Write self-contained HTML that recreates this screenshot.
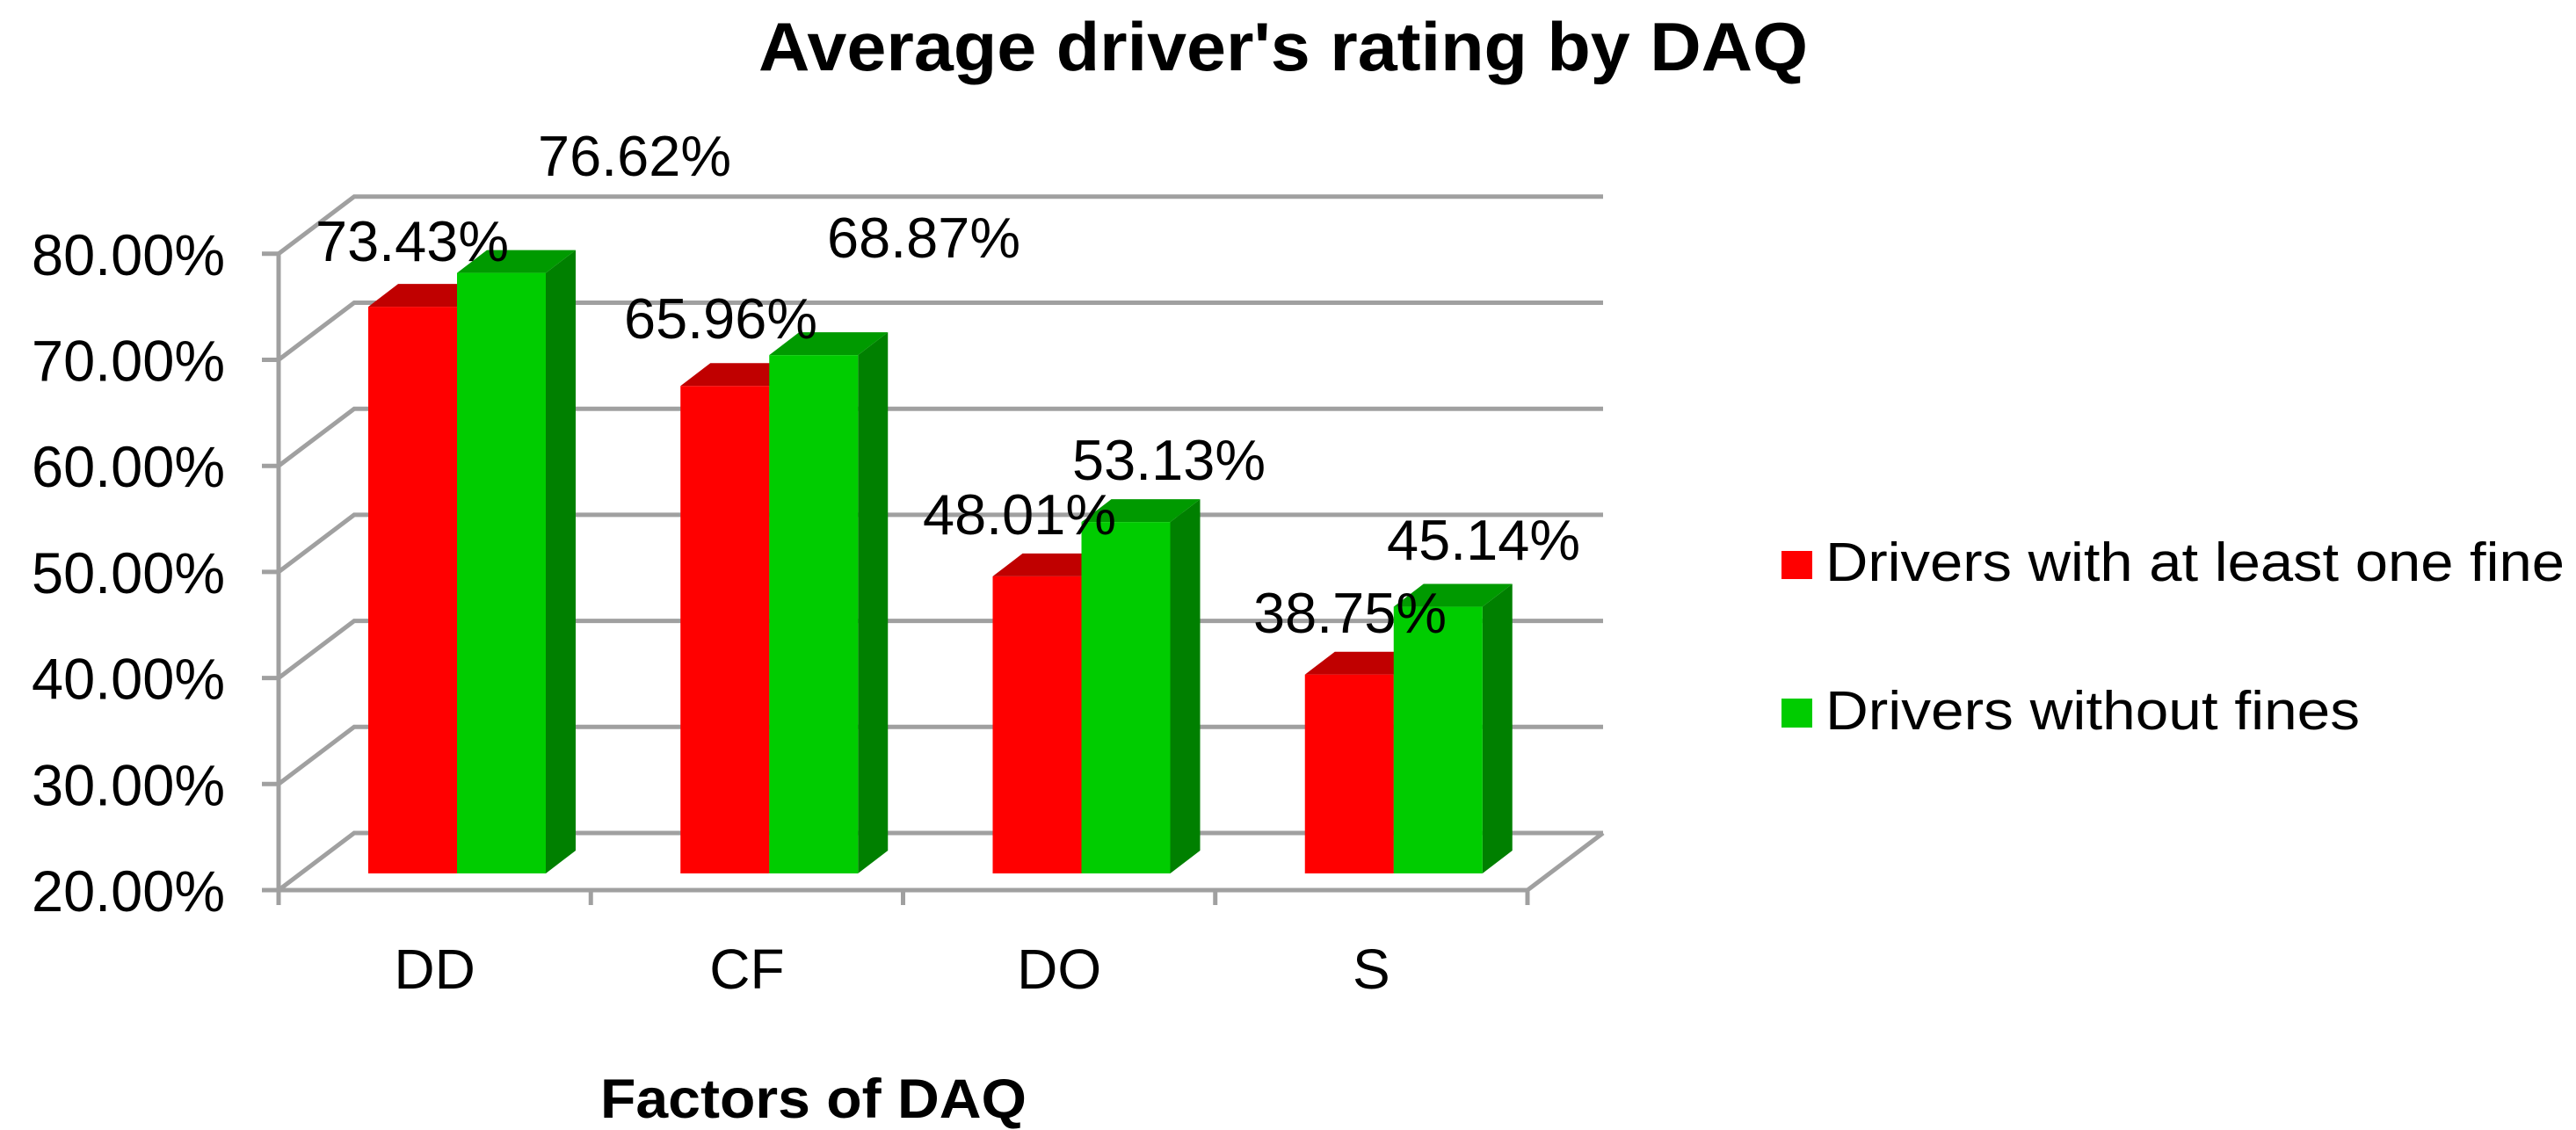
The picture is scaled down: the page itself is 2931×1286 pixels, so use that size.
<!DOCTYPE html>
<html><head><meta charset="utf-8"><style>
html,body{margin:0;padding:0;background:#fff;overflow:hidden;}
svg{display:block;font-family:"Liberation Sans",Arial,sans-serif;}
</style></head><body>
<svg id="chart" width="2931" height="1286" viewBox="0 0 2931 1286" xmlns="http://www.w3.org/2000/svg">
<text x="863" y="80" font-size="78" font-weight="bold" textLength="1194" lengthAdjust="spacingAndGlyphs">Average driver's rating by DAQ</text>
<g id="grid"></g>
<g id="bars"></g>
<g id="labels"></g>
<text x="683" y="1272" font-size="63" font-weight="bold" textLength="485" lengthAdjust="spacingAndGlyphs">Factors of DAQ</text>
<g>
<rect x="2027" y="627" width="35" height="32" fill="#ff0000"/>
<text x="2077" y="661" font-size="62" textLength="841" lengthAdjust="spacingAndGlyphs">Drivers with at least one fine</text>
<rect x="2027" y="795" width="35" height="33" fill="#00cc00"/>
<text x="2077" y="830" font-size="62" textLength="608" lengthAdjust="spacingAndGlyphs">Drivers without fines</text>
</g>
</svg>
<script>
const categories = ["DD","CF","DO","S"];
const withFine = [73.43,65.96,48.01,38.75];
const withoutFine = [76.62,68.87,53.13,45.14];
const yTicks = [20,30,40,50,60,70,80];
const yTickLabels = ["20.00%","30.00%","40.00%","50.00%","60.00%","70.00%","80.00%"];

const NS="http://www.w3.org/2000/svg";
const X0=317, CW=355.25, FRONT0=1013, PX=12.07, DX=86, DY=-65;
const BAR0=994;
function yFront(v){return FRONT0-(v-20)*PX;}
function yBar(v){return BAR0-(v-20)*PX;}
function xCat(i){return X0+i*CW;}
function mk(tag,attrs,parent){const e=document.createElementNS(NS,tag);for(const k in attrs)e.setAttribute(k,attrs[k]);parent.appendChild(e);return e;}
const grid=document.getElementById('grid'),bars=document.getElementById('bars'),labels=document.getElementById('labels');
const xEnd=xCat(categories.length);
const G="#a0a0a0";
yTicks.forEach((t,i)=>{
  const y=yFront(t);
  let l=mk('polyline',{points:`${X0},${y} ${X0+DX},${y+DY} ${xEnd+DX},${y+DY}`,fill:'none',stroke:G,'stroke-width':5},grid);
  
  
  let tk=mk('line',{x1:X0-19,y1:y,x2:X0,y2:y,stroke:G,'stroke-width':5},grid);
  
  
  let tx=mk('text',{x:256,y:y+24,'font-size':66,'text-anchor':'end',textLength:220,lengthAdjust:'spacingAndGlyphs'},grid);
  tx.textContent=yTickLabels[i];
  
  
});
let fl=mk('polyline',{points:`${X0},${FRONT0} ${xEnd},${FRONT0} ${xEnd+DX},${FRONT0+DY}`,fill:'none',stroke:G,'stroke-width':5},grid);


let ax=mk('line',{x1:X0,y1:yFront(80),x2:X0,y2:FRONT0,stroke:G,'stroke-width':5},grid);


for(let i=0;i<=categories.length;i++){
  let t=mk('line',{x1:xCat(i),y1:FRONT0,x2:xCat(i),y2:FRONT0+17,stroke:G,'stroke-width':5},grid);
  
  
}
categories.forEach((c,i)=>{
  let t=mk('text',{x:xCat(i)+CW/2,y:1125,'font-size':64,'text-anchor':'middle'},grid);
  t.textContent=c;
  
  
});
const BW=101, SDX=34, SDY=-26;
function bar3d(x,v,front,top,side,name){
  const g=mk('g',{},bars);
  
  
  const yt=yBar(v);
  mk('polygon',{points:`${x+BW},${yt} ${x+BW+SDX},${yt+SDY} ${x+BW+SDX},${BAR0+SDY} ${x+BW},${BAR0}`,fill:side},g);
  mk('polygon',{points:`${x},${yt} ${x+SDX},${yt+SDY} ${x+BW+SDX},${yt+SDY} ${x+BW},${yt}`,fill:top},g);
  mk('rect',{x:x,y:yt,width:BW,height:BAR0-yt,fill:front},g);
}
const fineLabelPos=[[469,297],[820,385],[1160,608],[1536,720]];
const noFineLabelPos=[[722,200],[1051,293],[1330,546],[1688,637]];
categories.forEach((c,i)=>{
  const xr=xCat(i)+102;
  bar3d(xr,withFine[i],'#ff0000','#c00000','#a00000','bar-fine-'+c);
  bar3d(xr+BW,withoutFine[i],'#00cc00','#009a00','#008000','bar-nofine-'+c);
});
function lab(v,pos,name){
  const t=mk('text',{x:pos[0],y:pos[1],'font-size':65,'text-anchor':'middle',textLength:220,lengthAdjust:'spacingAndGlyphs'},labels);
  t.textContent=v.toFixed(2)+'%';
  
  
}
categories.forEach((c,i)=>{
  lab(withoutFine[i],noFineLabelPos[i],'label-nofine-'+c);
  lab(withFine[i],fineLabelPos[i],'label-fine-'+c);
});
</script>
</body></html>
